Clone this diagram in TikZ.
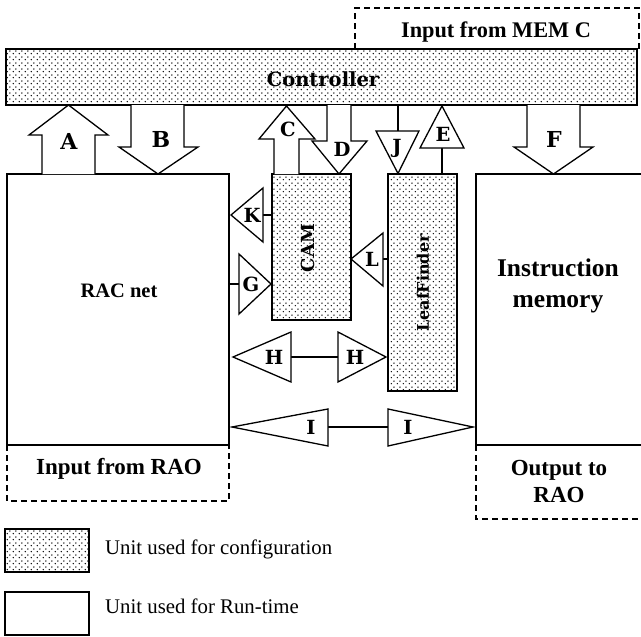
\documentclass[tikz,border=0pt]{standalone}
\usepackage{fontspec}
\usetikzlibrary{patterns,fit,calc}
\newfontfamily\tnr{Liberation Serif}
\newfontfamily\heavy{DejaVu Serif}

% dotted fill for the configuration units
\pgfdeclarepatternformonly{cfgdots}{\pgfpointorigin}{\pgfpoint{6pt}{6pt}}{\pgfpoint{6pt}{6pt}}{%
  \pgfpathcircle{\pgfpoint{1.5pt}{1.5pt}}{0.85pt}%
  \pgfpathcircle{\pgfpoint{4.5pt}{4.5pt}}{0.85pt}%
  \pgfusepath{fill}%
}

\tikzset{
  unit/.style={draw, line width=1.3pt, inner sep=0pt, outer sep=0pt},
  cfgunit/.style={unit, pattern=cfgdots},
  ioframe/.style={line width=1.2pt, dash pattern=on 6pt off 4pt},
  flag/.style={draw, line width=1.3pt, fill=white, line join=miter},
  wire/.style={line width=1.5pt},
  tag/.style={font=\heavy\bfseries\fontsize{19.5}{19.5}\selectfont, inner sep=0pt},
  bigtag/.style={font=\heavy\bfseries\fontsize{22}{22}\selectfont, inner sep=0pt},
  legendtext/.style={font=\tnr\fontsize{20.8}{22}\selectfont, anchor=west, inner sep=0pt},
}

\begin{document}
\begin{tikzpicture}[x=1pt,y=-1pt]
\useasboundingbox (0,0) rectangle (641,637);

% ---------- units ----------
\node[cfgunit, fit={(6,49) (637,105)}] (ctrl) {};
\node[font=\heavy\bfseries\fontsize{19.5}{19.5}\selectfont] (ctrltxt) at (323,79) {Controller};

\node[unit, fit={(7,174) (229,445)}] (rac) {};
\node[font=\tnr\bfseries\fontsize{20.5}{20.5}\selectfont] (ractxt) at (119,291) {RAC net};

\node[cfgunit, fit={(272,174) (351,320)}] (cam) {};
\node[font=\heavy\bfseries\fontsize{18}{18}\selectfont, rotate=90] (camtxt) at (308,248) {CAM};

\node[cfgunit, fit={(388,174) (457,391)}] (leaf) {};
\node[font=\heavy\bfseries\fontsize{16}{16}\selectfont, rotate=90] (leaftxt) at (423,283) {LeafFinder};

\node[unit, fit={(476,174) (650,445)}] (imem) {};
\node[font=\tnr\bfseries\fontsize{25.5}{31}\selectfont, align=center] (imemtxt) at (558,286) {Instruction\\memory};

% ---------- external inputs / outputs (dashed) ----------
\coordinate (memtl) at (355,8);
\draw[ioframe] (memtl |- ctrl.north) -- (memtl) -- (639,8) -- (639,49);
\node[font=\tnr\bfseries\fontsize{22.3}{22}\selectfont] (memtxt) at (496,32) {Input from MEM C};

\draw[ioframe] (rac.south west) -- ++(0,56) -| (rac.south east);
\node[font=\tnr\bfseries\fontsize{23}{23}\selectfont] (raoin) at (119,469) {Input from RAO};

\draw[ioframe] (imem.south west) -- ++(0,74) -- ++(175,0);
\node[font=\tnr\bfseries\fontsize{23}{27}\selectfont, align=center] (raoout) at (559,481) {Output to\\RAO};

% ---------- block arrows between controller and units ----------
% A: RAC net -> controller
\draw[flag] (42,174) -- (42,135) -- (29,135) -- (68.5,105) -- (108,135) -- (95,135) -- (95,174);
\node[bigtag] (la) at (69,141) {A};
% B: controller -> RAC net
\draw[flag] (131,105) -- (131,147) -- (119,147) -- (158,174) -- (198,147) -- (184,147) -- (184,105);
\node[bigtag] (lb) at (161,139) {B};
% D: controller -> CAM
\draw[flag] (327,105) -- (327,141) -- (312,141) -- (339,174) -- (367,141) -- (351,141) -- (351,105);
\node[tag] (ld) at (342,149) {D};
% C: CAM -> controller
\draw[flag] (274,174) -- (274,139) -- (259,139) -- (286.5,106) -- (315,139) -- (299,139) -- (299,174);
\node[tag] (lc) at (288,129) {C};
% F: controller -> instruction memory
\draw[flag] (527,105) -- (527,147) -- (514,147) -- (553.5,174) -- (593,147) -- (580,147) -- (580,105);
\node[bigtag] (lf) at (554,139) {F};

% J: controller -> LeafFinder
\coordinate (jtop) at (398,131);
\draw[wire] (jtop |- ctrl.south) -- (jtop);
\draw[flag] (376,131) -- (419,131) -- (398,173.5) -- cycle;
\node[tag] (lj) at (397,148) {J};
% E: LeafFinder -> controller
\coordinate (ebase) at (442,148);
\draw[wire] (ebase) -- (ebase |- leaf.north);
\draw[flag] (442,106) -- (464,148) -- (420,148) -- cycle;
\node[tag] (le) at (443,134) {E};

% ---------- side signals ----------
% K: CAM -> RAC net
\coordinate (kb) at (263,215);
\draw[wire] (kb) -- (kb -| cam.west);
\draw[flag] (231,215) -- (263,188) -- (263,242) -- cycle;
\node[tag] (lk) at (252,215) {K};
% G: RAC net -> CAM
\coordinate (gb) at (239,284);
\draw[wire] (gb -| rac.east) -- (gb);
\draw[flag] (239,254) -- (271,284) -- (239,314) -- cycle;
\node[tag] (lg) at (251,284) {G};
% L: LeafFinder -> CAM
\coordinate (lb2) at (383,259);
\draw[wire] (lb2) -- (lb2 -| leaf.west);
\draw[flag] (351,259) -- (383,233) -- (383,286) -- cycle;
\node[tag] (ll) at (372,259) {L};
% H: RAC net <-> LeafFinder
\coordinate (hl) at (291,357);
\coordinate (hr) at (338,357);
\draw[wire] (hl) -- (hr);
\draw[flag] (233,357) -- (291,332) -- (291,382) -- cycle;
\draw[flag] (338,332) -- (386,357) -- (338,382) -- cycle;
\node[tag] (lh1) at (274,357) {H};
\node[tag] (lh2) at (355,357) {H};
% I: RAC net <-> instruction memory
\coordinate (il) at (328,427);
\coordinate (ir) at (388,427);
\draw[wire] (il) -- (ir);
\draw[flag] (232,427) -- (328,409) -- (328,446) -- cycle;
\draw[flag] (388,409) -- (473,427) -- (388,446) -- cycle;
\node[tag] (li1) at (311,427) {I};
\node[tag] (li2) at (408,427) {I};

% ---------- legend ----------
\node[cfgunit, fit={(5,529) (89,572)}] (keycfg) {};
\node[legendtext] (keycfgtxt) at (105,549) {Unit used for configuration};
\node[unit, fit={(5,592) (89,635)}] (keyrun) {};
\node[legendtext] (keyruntxt) at (105,606) {Unit used for Run-time};
\end{tikzpicture}
\end{document}
